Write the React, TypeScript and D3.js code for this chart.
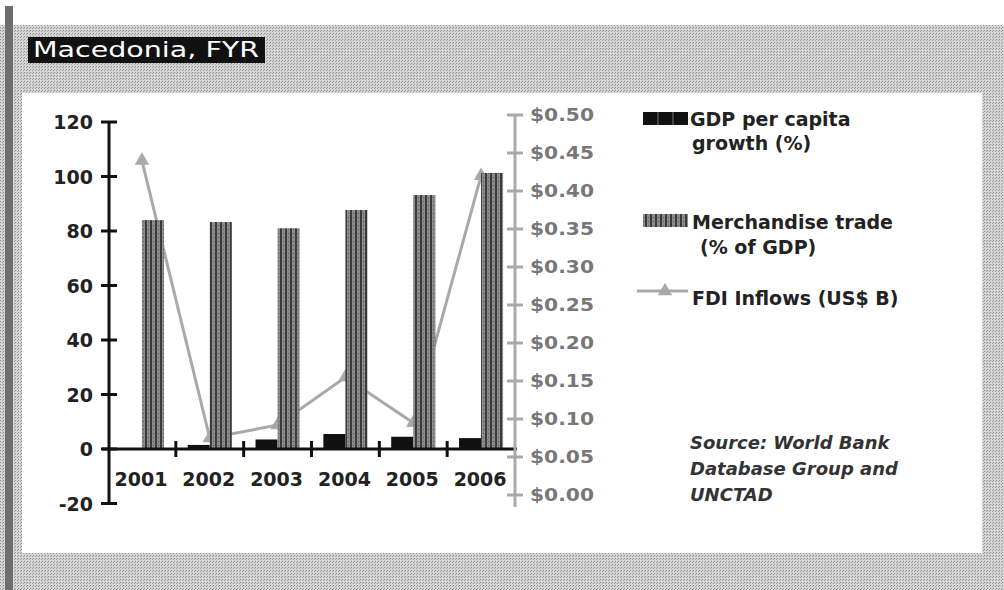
import React from "react";
import * as d3 from "d3";

const years = ["2001", "2002", "2003", "2004", "2005", "2006"];
const gdpGrowth = [0, 1.5, 3.5, 5.5, 4.5, 4];
const merchTrade = [84, 83.3, 81, 87.7, 93.2, 101.3];
const fdiInflows = [0.44, 0.075, 0.092, 0.155, 0.095, 0.42];
const leftTicks = [-20, 0, 20, 40, 60, 80, 100, 120];
const rightTicks = [0, 0.05, 0.1, 0.15, 0.2, 0.25, 0.3, 0.35, 0.4, 0.45, 0.5];
const seriesKeys = ["gdp", "merch"];
const legendLabels = [
  ["GDP per capita", "growth (%)"],
  ["Merchandise trade", "(% of GDP)"],
  ["FDI Inflows (US$ B)"],
];
const sourceLines = ["Source: World Bank", "Database Group and", "UNCTAD"];
const title = "Macedonia, FYR";

const FONT = "'DejaVu Sans', Verdana, sans-serif";

export default function App() {
  const yL = d3.scaleLinear().domain([-20, 120]).range([503.5, 122]);
  const yR = d3.scaleLinear().domain([0, 0.5]).range([495, 115]);
  const x0 = d3.scaleBand().domain(years).range([108, 515]).paddingInner(0.35).paddingOuter(0.175);
  const bw = x0.bandwidth();
  const x1 = d3.scaleBand().domain(seriesKeys).range([0, bw]);
  const step = x0.step();
  const fmtR = d3.format("$.2f");

  const fdiPts: [number, number][] = years.map((yr, i) => [x0(yr)! + bw / 2, yR(fdiInflows[i])]);
  const line = d3.line<[number, number]>().x((d) => d[0]).y((d) => d[1]);
  const tri = d3.symbol().type(d3.symbolTriangle).size(90)()!;

  const gray = "#a9a9a9";
  const y0 = yL(0);

  return (
    <svg width={1004} height={590} style={{ position: "absolute", left: 0, top: 0, display: "block" }} fontFamily={FONT}>
      <defs>
        <pattern id="halftone" width="3" height="3" patternUnits="userSpaceOnUse">
          <rect width="3" height="3" fill="#d6d6d6" />
          <rect width="1" height="1" fill="#8a8a8a" />
          <rect x="2" y="1" width="1" height="1" fill="#9a9a9a" />
        </pattern>
        <pattern id="merchPat" width="5" height="4" patternUnits="userSpaceOnUse">
          <rect width="5" height="4" fill="#8c8c8c" />
          <rect width="2" height="4" fill="#3a3a3a" />
          <rect x="3" y="1" width="1" height="1" fill="#555" />
        </pattern>
      </defs>
      <rect x={0} y={0} width={1004} height={590} fill="#fff" />
      <rect x={0} y={25} width={1004} height={565} fill="url(#halftone)" />
      <rect x={5} y={6} width={8} height={584} fill="#6e6e6e" />
      <rect x={22} y={93} width={960} height={460} fill="#fff" />

      {/* title */}
      <rect x={28} y={37} width={237} height={26} fill="#111" />
      <text x={33} y={57} fill="#fff" fontSize={21} textLength={226} lengthAdjust="spacingAndGlyphs">
        {title}
      </text>

      {/* FDI line (behind bars) */}
      <path d={line(fdiPts)!} fill="none" stroke={gray} strokeWidth={3} />
      {fdiPts.map((p, i) => (
        <path key={"m" + i} d={tri} transform={`translate(${p[0]},${p[1]})`} fill={gray} />
      ))}

      {/* bars */}
      {years.map((yr, i) => {
        const gx = x0(yr)! + x1("gdp")!;
        const mx = x0(yr)! + x1("merch")!;
        const g = gdpGrowth[i];
        return (
          <g key={yr}>
            {g !== 0 && (
              <rect x={gx} y={Math.min(yL(g), y0)} width={x1.bandwidth()} height={Math.abs(yL(g) - y0)} fill="#111" />
            )}
            <rect x={mx} y={yL(merchTrade[i])} width={x1.bandwidth()} height={y0 - yL(merchTrade[i])} fill="url(#merchPat)" />
          </g>
        );
      })}

      {/* left axis */}
      <line x1={109} x2={109} y1={yL(120)} y2={yL(-20)} stroke="#111" strokeWidth={3} />
      {leftTicks.map((t) => (
        <g key={"l" + t}>
          <line x1={101} x2={117} y1={yL(t)} y2={yL(t)} stroke="#111" strokeWidth={3} />
          <text x={93} y={yL(t) + 7} textAnchor="end" fontSize={19} fontWeight="bold" fill="#222">
            {t}
          </text>
        </g>
      ))}

      {/* x axis */}
      <line x1={102} x2={517} y1={y0} y2={y0} stroke="#111" strokeWidth={3} />
      {years.slice(1).map((yr) => (
        <line key={"xt" + yr} x1={x0(yr)! - (step - bw) / 2} x2={x0(yr)! - (step - bw) / 2} y1={y0 - 8} y2={y0 + 8} stroke="#111" strokeWidth={3} />
      ))}
      {years.map((yr) => (
        <text key={"xl" + yr} x={x0(yr)! + bw / 2 - 1} y={486} textAnchor="middle" fontSize={19} fontWeight="bold" fill="#222">
          {yr}
        </text>
      ))}

      {/* right axis */}
      <line x1={515} x2={515} y1={yR(0.5)} y2={yR(0) + 12} stroke={gray} strokeWidth={3} />
      {rightTicks.map((t) => (
        <g key={"r" + t}>
          <line x1={507} x2={523} y1={yR(t)} y2={yR(t)} stroke={gray} strokeWidth={3} />
          <text x={530} y={yR(t) + 6} fontSize={18} fontWeight="bold" fill="#777" textLength={64} lengthAdjust="spacingAndGlyphs">
            {fmtR(t)}
          </text>
        </g>
      ))}

      {/* legend */}
      <g fontSize={19} fontWeight="bold" fill="#222">
        <rect x={643} y={112} width={45} height={13} fill="#111" />
        <line x1={658} x2={658} y1={112} y2={125} stroke="#777" strokeWidth={1} />
        <line x1={673} x2={673} y1={112} y2={125} stroke="#777" strokeWidth={1} />
        <text x={690} y={126}>{legendLabels[0][0]}</text>
        <text x={692} y={150}>{legendLabels[0][1]}</text>

        <rect x={643} y={214} width={45} height={13} fill="url(#merchPat)" />
        <text x={692} y={229}>{legendLabels[1][0]}</text>
        <text x={700} y={254}>{legendLabels[1][1]}</text>

        <line x1={637} x2={688} y1={291} y2={291} stroke={gray} strokeWidth={3} />
        <path d={tri} transform="translate(665,291)" fill={gray} />
        <text x={692} y={305}>{legendLabels[2][0]}</text>
      </g>

      {/* source */}
      <g fontSize={18} fontWeight="bold" fontStyle="italic" fill="#333">
        {sourceLines.map((s, i) => (
          <text key={s} x={690} y={449 + i * 26}>
            {s}
          </text>
        ))}
      </g>
    </svg>
  );
}
